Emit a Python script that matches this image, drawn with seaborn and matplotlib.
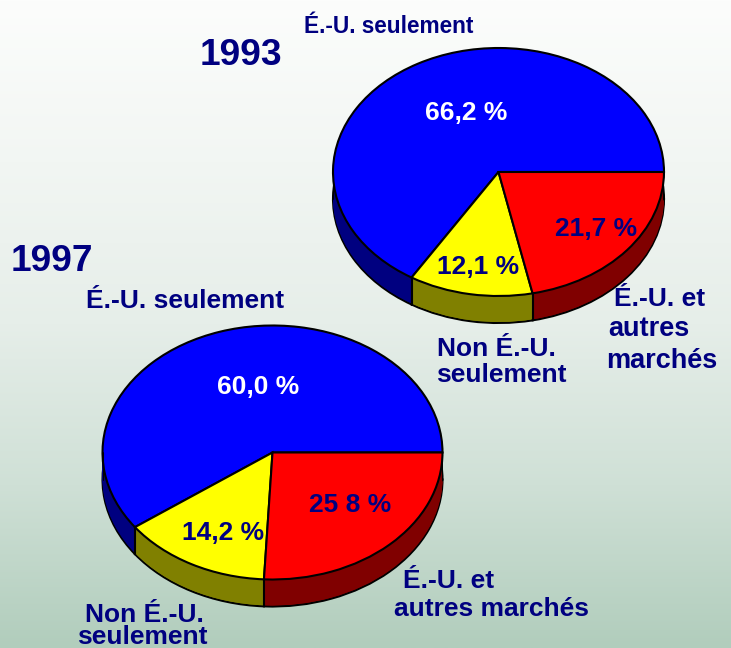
import numpy as np
import matplotlib
matplotlib.use('Agg')
import matplotlib.pyplot as plt
import seaborn as sns

W, H = 731, 648

shares_1993 = [66.2, 12.1, 21.7]
shares_1997 = [60.0, 14.2, 25.8]
text_1993 = ['66,2 %', '12,1 %', '21,7 %']
text_1997 = ['60,0 %', '14,2 %', '25 8 %']
top_colors = ['#0000ff', '#ffff00', '#ff0000']
side_colors = ['#000080', '#808000', '#800000']
navy = '#000080'

sns.set_theme(style='white')
plt.rcParams['font.family'] = ['Liberation Sans', 'DejaVu Sans']
plt.rcParams['font.weight'] = 'bold'

fig = plt.figure(figsize=(W / 100, H / 100), dpi=100)

# background, light at the top and green at the bottom
bg = fig.add_axes([0, 0, 1, 1], zorder=0)
stops = sns.blend_palette(['#fcfdfc', '#f2f6f3', '#e6eee9', '#cfe0d6', '#b1cdbc'], n_colors=256)
bg.imshow(np.array(stops)[:, None, :], aspect='auto', extent=[0, 1, 0, 1])
bg.set_axis_off()


def draw_pie(shares, cx, cy, rx, ry, depth):
    low = -1 - depth / ry
    ax = fig.add_axes([(cx - rx) / W, (H - cy - ry - depth) / H, 2 * rx / W, (2 * ry + depth) / H], zorder=1)
    ax.patch.set_alpha(0)

    # side wall: the same pie repeated downward, only the lowest has an outline
    steps = int(depth)
    for i in range(steps, 0, -1):
        off = -i / ry
        edge = 'black' if i == steps else 'none'
        ax.pie(shares, colors=side_colors, startangle=0, center=(0, off), radius=1,
               wedgeprops=dict(edgecolor=edge, linewidth=1.5))

    # vertical lines where the slices meet, and at the silhouette
    angles = np.cumsum(shares) / 100 * 2 * np.pi
    for a in angles:
        x, y = np.cos(a), np.sin(a)
        if y <= 0.001:
            ax.plot([x, x], [y, y - depth / ry], color='black', lw=1.5)
    ax.plot([-1, -1], [0, -depth / ry], color='black', lw=1.5)
    ax.plot([1, 1], [0, -depth / ry], color='black', lw=2)

    ax.pie(shares, colors=top_colors, startangle=0, radius=1,
           wedgeprops=dict(edgecolor='black', linewidth=1.5))
    ax.set_aspect('auto')
    ax.set_xlim(-1, 1)
    ax.set_ylim(low, 1)
    return ax


draw_pie(shares_1993, 498.5, 172, 165.5, 124, 27)
draw_pie(shares_1997, 272.5, 452.5, 170, 127, 27)

# all the text, placed in pixel coordinates of the picture
tx = fig.add_axes([0, 0, 1, 1], zorder=2)
tx.set_xlim(0, W)
tx.set_ylim(H, 0)
tx.set_axis_off()


def label(x, y, s, color=navy, size=19, ha='center'):
    tx.text(x, y + 1.5, s, color=color, fontsize=size, fontweight='bold', ha=ha, va='center')


label(240.5, 54, '1993', size=26.7)
label(52, 260, '1997', size=26.7)

label(388.5, 25, 'É.-U. seulement', size=16.3)
label(185.5, 299, 'É.-U. seulement')

label(466.5, 111, text_1993[0], color='white')
label(478, 265, text_1993[1])
label(596.5, 228, text_1993[2])
label(258.5, 385, text_1997[0], color='white')
label(223.5, 531, text_1997[1])
label(350, 503, text_1997[2])

label(496, 347, 'Non É.-U.')
label(501.5, 374, 'seulement')
label(659.5, 298, 'É.-U. et')
label(648.5, 328, 'autres', size=19.5)
label(662, 359, 'marchés', size=19.5)
label(144.5, 613, 'Non É.-U.')
label(142.5, 635.5, 'seulement')
label(448.5, 579, 'É.-U. et')
label(492, 608, 'autres marchés')

fig.savefig('out.png', dpi=100)
